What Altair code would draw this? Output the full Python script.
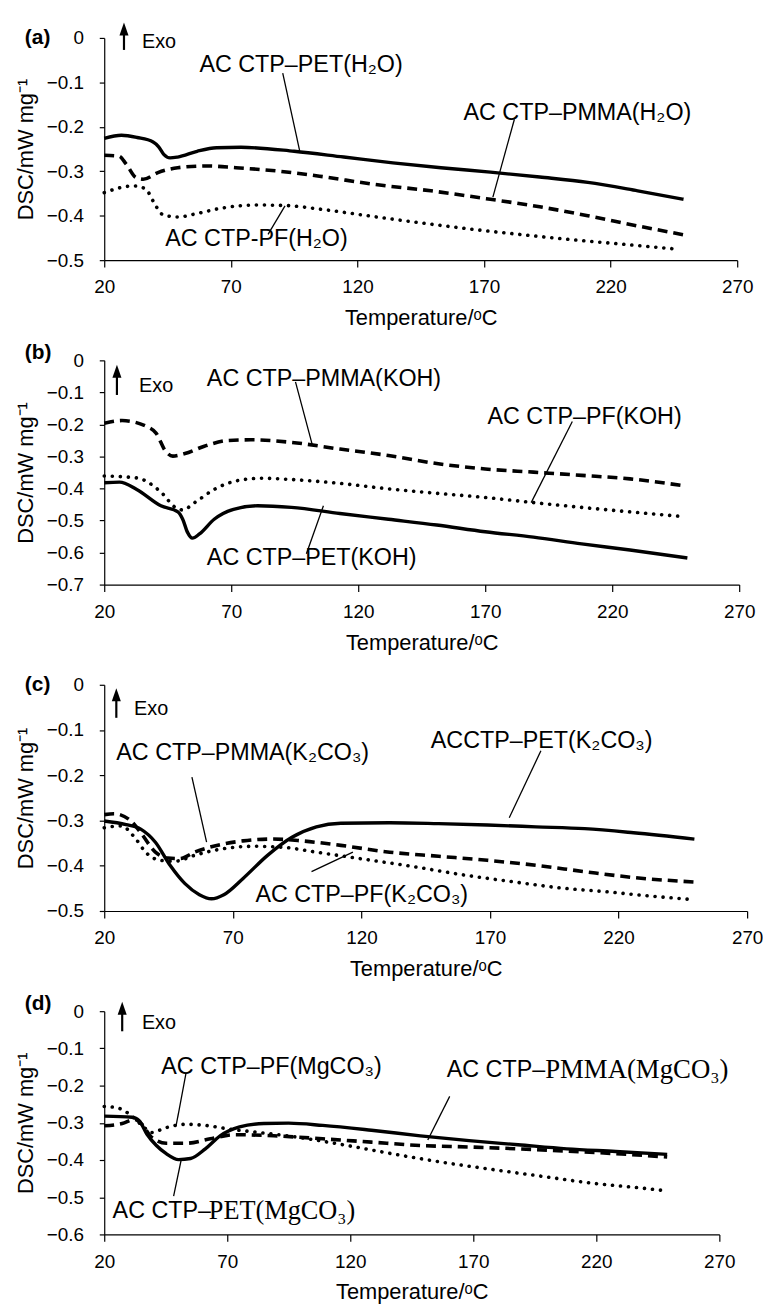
import altair as alt
import pandas as pd

X_TICKS = [20, 70, 120, 170, 220, 270]

# ---------------- Panel (a) : H2O ----------------
A_PET_T = [20, 26.8, 33, 39.3, 41.5, 43.5, 46, 49, 56.7, 64.4, 74, 95, 114.6, 134, 153, 172.5, 192, 211, 230.7, 248.8]
A_PET_V = [-0.226, -0.219, -0.224, -0.234, -0.245, -0.262, -0.27, -0.268, -0.255, -0.247, -0.246, -0.255, -0.268, -0.281, -0.292, -0.302, -0.313, -0.325, -0.344, -0.363]
A_PMMA_T = [20, 25.8, 28.7, 32.5, 35.4, 41.2, 49, 60.5, 72, 87.6, 105, 126, 149, 172.5, 192, 211, 230.7, 250.7]
A_PMMA_V = [-0.264, -0.266, -0.284, -0.314, -0.318, -0.303, -0.292, -0.288, -0.292, -0.299, -0.311, -0.329, -0.344, -0.363, -0.38, -0.4, -0.423, -0.445]
A_PF_T = [20, 31.6, 36.4, 39.3, 43, 49, 56.7, 66.3, 79.8, 91.4, 105, 124, 143.5, 164.6, 184, 203, 224.6, 245.9]
A_PF_V = [-0.348, -0.333, -0.34, -0.367, -0.397, -0.403, -0.395, -0.383, -0.376, -0.377, -0.385, -0.4, -0.415, -0.43, -0.442, -0.453, -0.464, -0.475]

# ---------------- Panel (b) : KOH ----------------
B_PMMA_T = [20, 27, 36.6, 40.4, 44.2, 47, 51.8, 59.4, 69, 78.5, 93.7, 112.8, 131.9, 150.9, 170, 189, 208, 227, 247]
B_PMMA_V = [-0.196, -0.188, -0.206, -0.227, -0.284, -0.299, -0.291, -0.268, -0.25, -0.248, -0.256, -0.277, -0.297, -0.322, -0.339, -0.349, -0.359, -0.37, -0.39]
B_PF_T = [20, 32.8, 42.3, 48, 50.9, 55.6, 63.3, 72.8, 82.3, 93.7, 112.8, 131.9, 150.9, 170, 189, 208, 227, 247]
B_PF_V = [-0.361, -0.367, -0.411, -0.459, -0.467, -0.444, -0.403, -0.375, -0.368, -0.372, -0.384, -0.401, -0.415, -0.428, -0.444, -0.459, -0.473, -0.487]
B_PET_T = [20, 26, 32.8, 42.3, 49, 50.9, 52.8, 54.7, 57.5, 63.3, 70.9, 80.4, 93.7, 112.8, 131.9, 150.9, 170, 189, 208, 227, 249.6]
B_PET_V = [-0.382, -0.38, -0.403, -0.454, -0.473, -0.496, -0.537, -0.555, -0.542, -0.496, -0.465, -0.454, -0.459, -0.478, -0.496, -0.514, -0.535, -0.552, -0.573, -0.592, -0.617]

# ---------------- Panel (c) : K2CO3 ----------------
C_PET_T = [20, 28.5, 34.2, 39.9, 45.6, 51.3, 57, 61.7, 66.5, 74, 83.5, 93, 102.5, 112, 131, 150, 169, 187.9, 206.8, 225.8, 249.5]
C_PET_V = [-0.301, -0.309, -0.319, -0.348, -0.399, -0.439, -0.464, -0.473, -0.464, -0.428, -0.377, -0.337, -0.314, -0.306, -0.305, -0.307, -0.31, -0.314, -0.318, -0.327, -0.341]
C_PMMA_T = [20, 23.8, 30.4, 34.2, 39.9, 44.7, 49.4, 55.1, 64.6, 74, 85.4, 96.8, 112, 131, 150, 169, 187.9, 206.8, 225.8, 249.5]
C_PMMA_V = [-0.287, -0.285, -0.301, -0.327, -0.37, -0.383, -0.384, -0.37, -0.354, -0.345, -0.341, -0.345, -0.355, -0.37, -0.379, -0.388, -0.399, -0.413, -0.426, -0.436]
C_PF_T = [20, 26.6, 32.3, 36.1, 41.8, 47.5, 55.1, 64.6, 77.9, 89.2, 102.5, 121.5, 140.4, 159.4, 178.4, 197.4, 216.3, 230.5, 249.5]
C_PF_V = [-0.316, -0.312, -0.341, -0.37, -0.388, -0.39, -0.377, -0.364, -0.357, -0.359, -0.37, -0.386, -0.402, -0.42, -0.435, -0.449, -0.458, -0.466, -0.475]

# ---------------- Panel (d) : MgCO3 ----------------
D_PET_T = [20, 31.3, 34.3, 37.3, 41.2, 45.2, 50.2, 55.1, 61.1, 67.1, 75, 84.9, 94.9, 108.8, 128.6, 148.5, 168.3, 188.2, 208, 227.9, 248.8]
D_PET_V = [-0.282, -0.285, -0.295, -0.33, -0.361, -0.383, -0.399, -0.396, -0.37, -0.335, -0.311, -0.302, -0.301, -0.307, -0.32, -0.335, -0.348, -0.359, -0.37, -0.377, -0.385]
D_PMMA_T = [20, 27.3, 32.3, 35.3, 39.3, 45.2, 53.2, 63.1, 73, 88.9, 108.8, 128.6, 148.5, 168.3, 188.2, 208, 227.9, 248.8]
D_PMMA_V = [-0.308, -0.302, -0.291, -0.304, -0.339, -0.355, -0.355, -0.343, -0.332, -0.335, -0.343, -0.352, -0.361, -0.365, -0.37, -0.376, -0.383, -0.392]
D_PF_T = [20, 25.4, 31.3, 36.3, 39.3, 45.2, 53.2, 61.1, 71, 82.9, 98.8, 118.7, 138.5, 158.4, 178.3, 198.1, 218, 237.8, 248.8]
D_PF_V = [-0.256, -0.26, -0.282, -0.313, -0.326, -0.313, -0.304, -0.307, -0.317, -0.326, -0.339, -0.361, -0.385, -0.407, -0.426, -0.444, -0.462, -0.475, -0.483]

# Annotation texts: (text, T anchor, DSC, font, align, size)
A_LABELS = [("AC CTP\u2013PET(H\u2082O)", 57.6, -0.06, "sans", "left", 23.5),
            ("AC CTP\u2013PMMA(H\u2082O)", 161.9, -0.168, "sans", "left", 23.5),
            ("AC CTP-PF(H\u2082O)", 44.1, -0.453, "sans", "left", 23.5)]
B_LABELS = [("AC CTP\u2013PMMA(KOH)", 60.4, -0.057, "sans", "left", 23.5),
            ("AC CTP\u2013PF(KOH)", 170.9, -0.176, "sans", "left", 23.5),
            ("AC CTP\u2013PET(KOH)", 60.4, -0.617, "sans", "left", 23.5)]
C_LABELS = [("ACCTP\u2013PET(K\u2082CO\u2083)", 147, -0.124, "sans", "left", 23.5),
            ("AC CTP\u2013PMMA(K\u2082CO\u2083)", 24.7, -0.15, "sans", "left", 23.5),
            ("AC CTP\u2013PF(K\u2082CO\u2083)", 78.8, -0.464, "sans", "left", 23.5)]
D_LABELS = [("AC CTP\u2013PF(MgCO\u2083)", 43.2, -0.151, "sans", "left", 23.5),
            ("AC CTP\u2013", 199.2, -0.159, "sans", "right", 23.5),
            ("PMMA(MgCO\u2083)", 199.2, -0.159, "serif", "left", 27),
            ("AC CTP\u2013", 23.4, -0.536, "sans", "left", 23.5),
            ("PET(MgCO\u2083)", 62.5, -0.536, "serif", "left", 26.5)]

# Leader lines: (T1, DSC1, T2, DSC2)
A_LEADERS = [(90.5, -0.079, 97.2, -0.254), (182, -0.183, 173.5, -0.358), (84.7, -0.442, 91.4, -0.378)]
B_LEADERS = [(95.3, -0.067, 101.9, -0.263), (204.3, -0.191, 188.1, -0.444), (99.6, -0.604, 106.3, -0.454)]
C_LEADERS = [(189.8, -0.146, 177.5, -0.294), (54.1, -0.204, 59.8, -0.348), (100.6, -0.413, 116.7, -0.37)]
D_LEADERS = [(53.2, -0.168, 49.2, -0.308), (160.4, -0.229, 151.5, -0.346), (48.2, -0.497, 51.2, -0.402)]

# Exo arrows: (T, DSC bottom, DSC head centre); Exo text: (T-left, DSC)
A_ARROW = (27.8, -0.027, 0.020); A_EXO = (34.9, -0.010)
B_ARROW = (25.0, -0.108, -0.034); B_EXO = (33.7, -0.080)
C_ARROW = (24.7, -0.073, -0.022); C_EXO = (31.6, -0.054)
D_ARROW = (27.3, -0.054, 0.008); D_EXO = (35.3, -0.031)

SANS = "Liberation Sans"
SERIF = "Liberation Serif"
ARROW_HEAD = "M-0.7,1 L0,-1 L0.7,1 Z"


def panel(tag, tag_dy, ymin, width, height, series, labels, leaders, arrow, exo):
    yvals = [round(ymin + 0.1 * i, 1) for i in range(int(round(-ymin / 0.1)) + 1)]

    def X():
        return alt.X("T:Q", scale=alt.Scale(domain=[20, 270], nice=False, zero=False),
                     axis=alt.Axis(values=X_TICKS, title="Temperature/\u1d52C"))

    def Y():
        return alt.Y("DSC:Q", scale=alt.Scale(domain=[ymin, 0], nice=False, zero=False),
                     axis=alt.Axis(values=yvals, title="DSC/mW mg\u207b\u00b9",
                                   labelExpr="datum.value == 0 ? '0' : format(datum.value, '.1f')"))

    layers = []
    for t, v, style in series:
        df = pd.DataFrame({"T": t, "DSC": v})
        if style == "solid":
            m = alt.Chart(df).mark_line(color="black", strokeWidth=3.4, interpolate="monotone")
        elif style == "dashed":
            m = alt.Chart(df).mark_line(color="black", strokeWidth=3.6, strokeDash=[10, 6],
                                        interpolate="monotone")
        else:
            m = alt.Chart(df).mark_line(color="black", strokeWidth=3.6, strokeDash=[0.1, 8],
                                        strokeCap="round", interpolate="monotone")
        layers.append(m.encode(x=X(), y=Y()))

    ldf = pd.DataFrame(leaders, columns=["T", "DSC", "T2", "DSC2"])
    layers.append(alt.Chart(ldf).mark_rule(color="black", strokeWidth=1.3).encode(
        x=X(), y=Y(), x2="T2:Q", y2="DSC2:Q"))

    for text, t, v, font, align, size in labels:
        tdf = pd.DataFrame({"T": [t], "DSC": [v], "txt": [text]})
        layers.append(alt.Chart(tdf).mark_text(
            align=align, baseline="middle", fontSize=size,
            font=SANS if font == "sans" else SERIF, color="black").encode(
            x=X(), y=Y(), text="txt:N"))

    at, ab, ah = arrow
    adf = pd.DataFrame({"T": [at], "DSC": [ab], "DSC2": [ah]})
    layers.append(alt.Chart(adf).mark_rule(color="black", strokeWidth=2.2).encode(
        x=X(), y=Y(), y2="DSC2:Q"))
    hdf = pd.DataFrame({"T": [at], "DSC": [ah]})
    layers.append(alt.Chart(hdf).mark_point(shape=ARROW_HEAD, size=170, filled=True,
                                            color="black", opacity=1).encode(x=X(), y=Y()))
    et, ev = exo
    edf = pd.DataFrame({"T": [et], "DSC": [ev], "txt": ["Exo"]})
    layers.append(alt.Chart(edf).mark_text(align="left", baseline="middle", fontSize=20,
                                           font=SANS, color="black").encode(
        x=X(), y=Y(), text="txt:N"))

    gdf = pd.DataFrame({"txt": [tag]})
    layers.append(alt.Chart(gdf).mark_text(align="left", baseline="middle", fontSize=21,
                                           fontWeight="bold", font=SANS, color="black").encode(
        x=alt.value(-80), y=alt.value(tag_dy), text="txt:N"))

    return alt.layer(*layers).properties(width=width, height=height)


pa = panel("(a)", 0, -0.5, 638, 224,
           [(A_PET_T, A_PET_V, "solid"), (A_PMMA_T, A_PMMA_V, "dashed"), (A_PF_T, A_PF_V, "dotted")],
           A_LABELS, A_LEADERS, A_ARROW, A_EXO)
pb = panel("(b)", -7, -0.7, 640, 226,
           [(B_PMMA_T, B_PMMA_V, "dashed"), (B_PF_T, B_PF_V, "dotted"), (B_PET_T, B_PET_V, "solid")],
           B_LABELS, B_LEADERS, B_ARROW, B_EXO)
pc = panel("(c)", 0, -0.5, 648, 228,
           [(C_PET_T, C_PET_V, "solid"), (C_PMMA_T, C_PMMA_V, "dashed"), (C_PF_T, C_PF_V, "dotted")],
           C_LABELS, C_LEADERS, C_ARROW, C_EXO)
pd_ = panel("(d)", -7, -0.6, 620, 225,
            [(D_PET_T, D_PET_V, "solid"), (D_PMMA_T, D_PMMA_V, "dashed"), (D_PF_T, D_PF_V, "dotted")],
            D_LABELS, D_LEADERS, D_ARROW, D_EXO)

chart = alt.vconcat(pa, pb, pc, pd_, spacing=101, bounds="flush").properties(
    padding={"left": 6, "top": 9, "right": 0, "bottom": 0}, background="white"
).configure_axis(
    domainColor="black", tickColor="black", labelColor="black", titleColor="black",
    grid=False, labelFont=SANS, titleFont=SANS, labelFontSize=19, titleFontSize=22,
    titleFontWeight="normal", labelFlush=False, domainWidth=1.2, tickWidth=1.2
).configure_axisX(
    tickSize=7, labelPadding=11, titlePadding=11
).configure_axisY(
    tickSize=5, labelPadding=16, titlePadding=9
).configure_view(stroke=None)

chart.save("out.html", embed_options={"renderer": "svg", "actions": False})
